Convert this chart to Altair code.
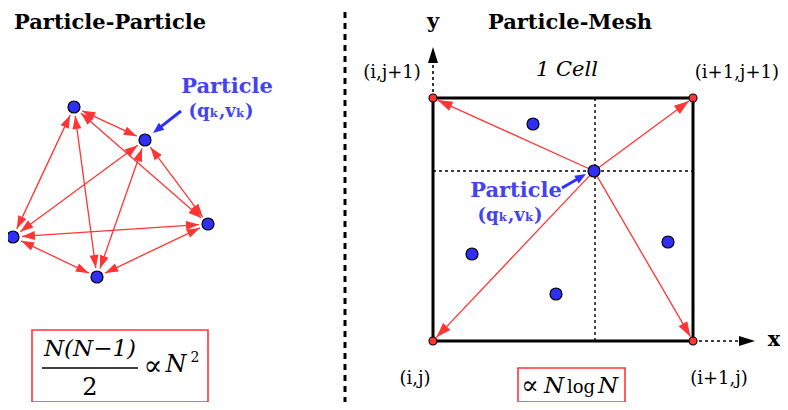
import altair as alt
import pandas as pd
import numpy as np

# ---------------- data (reference pixel coordinates) ----------------
# Particle-Particle panel: particle centres
pp_x = [74, 145, 13, 208, 97]
pp_y = [107, 140, 237, 224, 277]

# Particle-Mesh panel: cell corners and mid lines
cell_x = [433, 693]
cell_y = [98, 341]
mid_x = 595
mid_y = 171
pm_cx, pm_cy = 594, 171                 # highlighted particle
pm_other_x = [533, 472, 668, 556]
pm_other_y = [124, 254, 242, 294]

# pointer arrows (start -> tip)
ptr_x1 = [181, 562]; ptr_y1 = [111, 188]
ptr_x2 = [153, 586]; ptr_y2 = [133, 174]

# axis arrows (start -> tip)
ax_x1 = [433, 693]; ax_y1 = [98, 341]
ax_x2 = [433, 755]; ax_y2 = [47, 341]

# formula boxes
box_x1 = [32, 518]; box_y1 = [330, 368]
box_x2 = [208, 625]; box_y2 = [402, 402]

# texts
titles = ["Particle-Particle", "Particle-Mesh", "y", "x"]
title_x = [14, 570, 433, 774]
title_y = [29, 29, 28, 346]
title_size = [21, 21, 21, 21]
title_align = ["left", "center", "center", "center"]

node_labels = ["(i,j+1)", "(i+1,j+1)", "(i,j)", "(i+1,j)"]
node_lx = [392, 779, 415, 719]
node_ly = [73, 73, 379, 379]
node_align = ["center", "right", "center", "center"]

blue_labels = ["Particle", "(qₖ,vₖ)", "Particle", "(qₖ,vₖ)"]
blue_lx = [227, 221, 516, 510]
blue_ly = [87, 112, 191, 216]
blue_size = [21, 18, 21, 18]

RED = "#ff3535"
BLUE = "#2f2ff8"
BLUE_T = "#4343f0"

xs = alt.Scale(domain=[8, 780], nice=False, zero=False)
ys = alt.Scale(domain=[8, 402], nice=False, zero=False, reverse=True)


def X(f):
    return alt.X(f"{f}:Q", scale=xs, axis=None)


def Y(f):
    return alt.Y(f"{f}:Q", scale=ys, axis=None)


def segs(rows):
    return pd.DataFrame(rows, columns=["x1", "y1", "x2", "y2"])


def rule_layer(df, color, width, dash=None):
    kw = dict(color=color, strokeWidth=width)
    if dash:
        kw["strokeDash"] = dash
    return alt.Chart(df).mark_rule(**kw).encode(
        x=X("x1"), y=Y("y1"), x2=alt.X2("x2"), y2=alt.Y2("y2"))


def head_layer(df, L, W, color):
    path = f"M0,0L{W/2},{L}L{-W/2},{L}Z"
    return alt.Chart(df).mark_point(
        shape=path, size=4, filled=True, color=color, fill=color,
        strokeWidth=0, opacity=1).encode(
        x=X("x"), y=Y("y"), angle=alt.Angle("ang:Q", scale=None))


def heads_from(seglist):
    rows = []
    for (x1, y1, x2, y2) in seglist:
        ang = np.degrees(np.arctan2(x2 - x1, -(y2 - y1))) % 360
        rows.append((x2, y2, ang))
    return pd.DataFrame(rows, columns=["x", "y", "ang"])


def circles(xv, yv, d, fill, sw=1.2):
    df = pd.DataFrame({"x": xv, "y": yv})
    return alt.Chart(df).mark_point(
        shape="circle", size=d * d, filled=True, fill=fill, stroke="black",
        strokeWidth=sw, opacity=1).encode(x=X("x"), y=Y("y"))


def text_layer(df, font, weight="normal", style="normal", align="center",
               baseline="middle"):
    return alt.Chart(df).mark_text(
        font=font, fontWeight=weight, fontStyle=style, align=align,
        baseline=baseline).encode(
        x=X("x"), y=Y("y"), text="t:N",
        size=alt.Size("s:Q", scale=None),
        color=alt.Color("c:N", scale=None))


# ---------------- geometry ----------------
P = np.array(list(zip(pp_x, pp_y)), dtype=float)
pp_lines, pp_heads_seg = [], []
g = 9.0
for i in range(len(P)):
    for j in range(i + 1, len(P)):
        u = (P[j] - P[i]) / np.linalg.norm(P[j] - P[i])
        a = P[i] + u * g
        b = P[j] - u * g
        pp_lines.append((a[0], a[1], b[0], b[1]))
        pp_heads_seg.append((a[0], a[1], b[0], b[1]))
        pp_heads_seg.append((b[0], b[1], a[0], a[1]))

C = np.array([pm_cx, pm_cy], dtype=float)
pm_lines = []
for cx in cell_x:
    for cy in cell_y:
        q = np.array([cx, cy], dtype=float)
        u = (q - C) / np.linalg.norm(q - C)
        a = C + u * 6
        b = q - u * 5
        pm_lines.append((a[0], a[1], b[0], b[1]))

layers = []

# divider
layers.append(rule_layer(segs([(345, 12, 345, 420)]), "black", 3, [6, 5]))
# dotted mid lines
layers.append(rule_layer(segs([(mid_x, cell_y[0], mid_x, cell_y[1]),
                               (cell_x[0], mid_y, cell_x[1], mid_y)]),
                         "black", 1.4, [3, 3]))
# cell square
sq = pd.DataFrame({"x1": [cell_x[0]], "y1": [cell_y[0]],
                   "x2": [cell_x[1]], "y2": [cell_y[1]]})
layers.append(alt.Chart(sq).mark_rect(fill=None, stroke="black", strokeWidth=3).encode(
    x=X("x1"), y=Y("y1"), x2=alt.X2("x2"), y2=alt.Y2("y2")))

# red arrows
layers.append(rule_layer(segs(pp_lines), RED, 1.3))
layers.append(head_layer(heads_from(pp_heads_seg), 13, 9, RED))
layers.append(rule_layer(segs(pm_lines), RED, 1.3))
layers.append(head_layer(heads_from(pm_lines), 15, 10, RED))

# axis arrows
ax_seg = list(zip(ax_x1, ax_y1, ax_x2, ax_y2))
ax_lines = []
for (x1, y1, x2, y2) in ax_seg:
    d = np.array([x2 - x1, y2 - y1], dtype=float)
    u = d / np.linalg.norm(d)
    ax_lines.append((x1, y1, x2 - u[0] * 12, y2 - u[1] * 12))
layers.append(rule_layer(segs(ax_lines), "black", 1.6, [3, 3]))
layers.append(head_layer(heads_from(ax_seg), 16, 10, "black"))

# nodes and particles
layers.append(circles([cell_x[0], cell_x[1], cell_x[0], cell_x[1]],
                      [cell_y[0], cell_y[0], cell_y[1], cell_y[1]], 8, RED, 1.1))
layers.append(circles(pp_x, pp_y, 12, BLUE))
layers.append(circles([pm_cx] + pm_other_x, [pm_cy] + pm_other_y, 12, BLUE))

# pointer arrows
ptr_seg = list(zip(ptr_x1, ptr_y1, ptr_x2, ptr_y2))
ptr_lines = []
for (x1, y1, x2, y2) in ptr_seg:
    d = np.array([x2 - x1, y2 - y1], dtype=float)
    u = d / np.linalg.norm(d)
    ptr_lines.append((x1, y1, x2 - u[0] * 7, y2 - u[1] * 7))
layers.append(rule_layer(segs(ptr_lines), BLUE, 3))
layers.append(head_layer(heads_from(ptr_seg), 11, 9, BLUE))

# formula boxes
bx = pd.DataFrame({"x1": box_x1, "y1": box_y1, "x2": box_x2, "y2": box_y2})
layers.append(alt.Chart(bx).mark_rect(fill=None, stroke=RED, strokeWidth=1.6).encode(
    x=X("x1"), y=Y("y1"), x2=alt.X2("x2"), y2=alt.Y2("y2")))
# fraction bar
layers.append(rule_layer(segs([(42, 368, 138, 368)]), "black", 1.3))

SERIF = "DejaVu Serif"

# titles
for al in ["left", "center"]:
    idx = [k for k in range(len(titles)) if title_align[k] == al]
    df = pd.DataFrame({"x": [title_x[k] for k in idx], "y": [title_y[k] for k in idx],
                       "t": [titles[k] for k in idx], "s": [title_size[k] for k in idx],
                       "c": ["black"] * len(idx)})
    layers.append(text_layer(df, SERIF, "bold", align=al, baseline="alphabetic"))

for al in ["center", "right"]:
    idx = [k for k in range(len(node_labels)) if node_align[k] == al]
    df = pd.DataFrame({"x": [node_lx[k] for k in idx], "y": [node_ly[k] for k in idx],
                       "t": [node_labels[k] for k in idx], "s": [18] * len(idx),
                       "c": ["black"] * len(idx)})
    layers.append(text_layer(df, SERIF, align=al))

layers.append(text_layer(pd.DataFrame({"x": [567], "y": [70], "t": ["1 Cell"],
                                       "s": [21], "c": ["black"]}), SERIF, style="italic"))
layers.append(text_layer(pd.DataFrame({"x": blue_lx, "y": blue_ly, "t": blue_labels,
                                       "s": blue_size, "c": [BLUE_T] * 4}), SERIF, "bold"))

# math (left formula)
math_it = pd.DataFrame({"x": [90, 176], "y": [349, 365],
                        "t": ["N(N−1)", "N"], "s": [23, 24], "c": ["black"] * 2})
layers.append(text_layer(math_it, SERIF, style="italic"))
math_up = pd.DataFrame({"x": [90, 195], "y": [388, 358],
                        "t": ["2", "2"], "s": [24, 14], "c": ["black"] * 2})
layers.append(text_layer(math_up, SERIF))
# math (right formula), sharing a baseline
r_it = pd.DataFrame({"x": [554, 608], "y": [393, 393], "t": ["N", "N"],
                     "s": [23, 23], "c": ["black"] * 2})
layers.append(text_layer(r_it, SERIF, style="italic", baseline="alphabetic"))
r_up = pd.DataFrame({"x": [581], "y": [393], "t": ["log"], "s": [18], "c": ["black"]})
layers.append(text_layer(r_up, SERIF, baseline="alphabetic"))
math_sym = pd.DataFrame({"x": [153, 530], "y": [367, 386], "t": ["∝", "∝"],
                         "s": [28, 26], "c": ["black"] * 2})
layers.append(text_layer(math_sym, SERIF))

chart = alt.layer(*layers).properties(
    width=772, height=394,
    autosize=alt.AutoSizeParams(type="none"),
    padding=0,
).configure_view(stroke=None)

chart.save("out.html", embed_options={"renderer": "svg", "actions": False})
